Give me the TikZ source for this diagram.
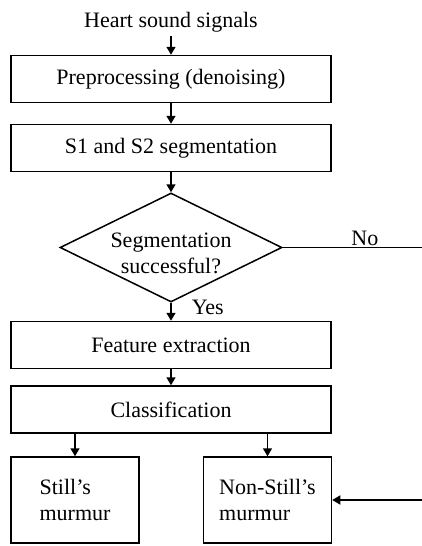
\documentclass[tikz,border=0pt]{standalone}
\usepackage{fontspec}
\setmainfont{Liberation Serif}
\usetikzlibrary{shapes.geometric}
\usetikzlibrary{arrows.meta}
\tikzset{my_flow/.style={x=1pt,y=-1pt,line width=1.5pt,font=\fontsize{22}{26}\selectfont}}
\tikzset{my_box/.style={draw, rectangle, minimum width=320pt, minimum height=47pt, inner sep=0pt}}
\tikzset{my_small_box/.style={draw, rectangle, align=left, minimum width=128pt, minimum height=86pt, inner sep=0pt}}
\tikzset{my_diamond/.style={draw, diamond, minimum width=222pt, minimum height=109pt, inner sep=0pt}}
\tikzset{my_arrow/.style={-{Triangle[length=8pt,width=9pt]}}}

\begin{document}
\begin{tikzpicture}[my_flow]
    \useasboundingbox (0,0) rectangle (422,546);
    \clip (0,0) rectangle (422,546);
    %\draw[help lines, step=20] (0,0) grid (422,546);
    \node (input) at (171,22) {Heart sound signals};
    \node[my_box] (prep) at (171,79) {Preprocessing (denoising)};
    \node[my_box] (seg) at (171,148) {S1 and S2 segmentation};
    \node[my_diamond] (check) at (171,247.5) {};
    \node[align=center, inner sep=0pt] (check_text) at (171,253) {Segmentation\\successful?};
    \node[my_box] (feat) at (171,345) {Feature extraction};
    \node[my_box] (class) at (171,409.5) {Classification};
    \node[my_small_box] (still) at (75,500) {Still's\\murmur};
    \node[my_small_box] (nonstill) at (267.5,500) {Non-Still's\\murmur};

    \path[my_arrow]
        (input) edge (prep)
        (prep) edge (seg)
        (seg) edge (check)
        (check) edge node [right=20pt, pos=0.26, inner sep=0pt] {Yes} (feat)
        (feat) edge (class)
        (class.south -| still.north) edge (still)
        (class.south -| nonstill.north) edge (nonstill)
    ;
    % the "No" branch leaves the cropped figure and comes back
    \draw[my_arrow] (check.east) -- node [above, pos=0.55, inner sep=1pt] {No} (432,247.5)
        -- (432,500) -- (nonstill.east);
\end{tikzpicture}
\end{document}
